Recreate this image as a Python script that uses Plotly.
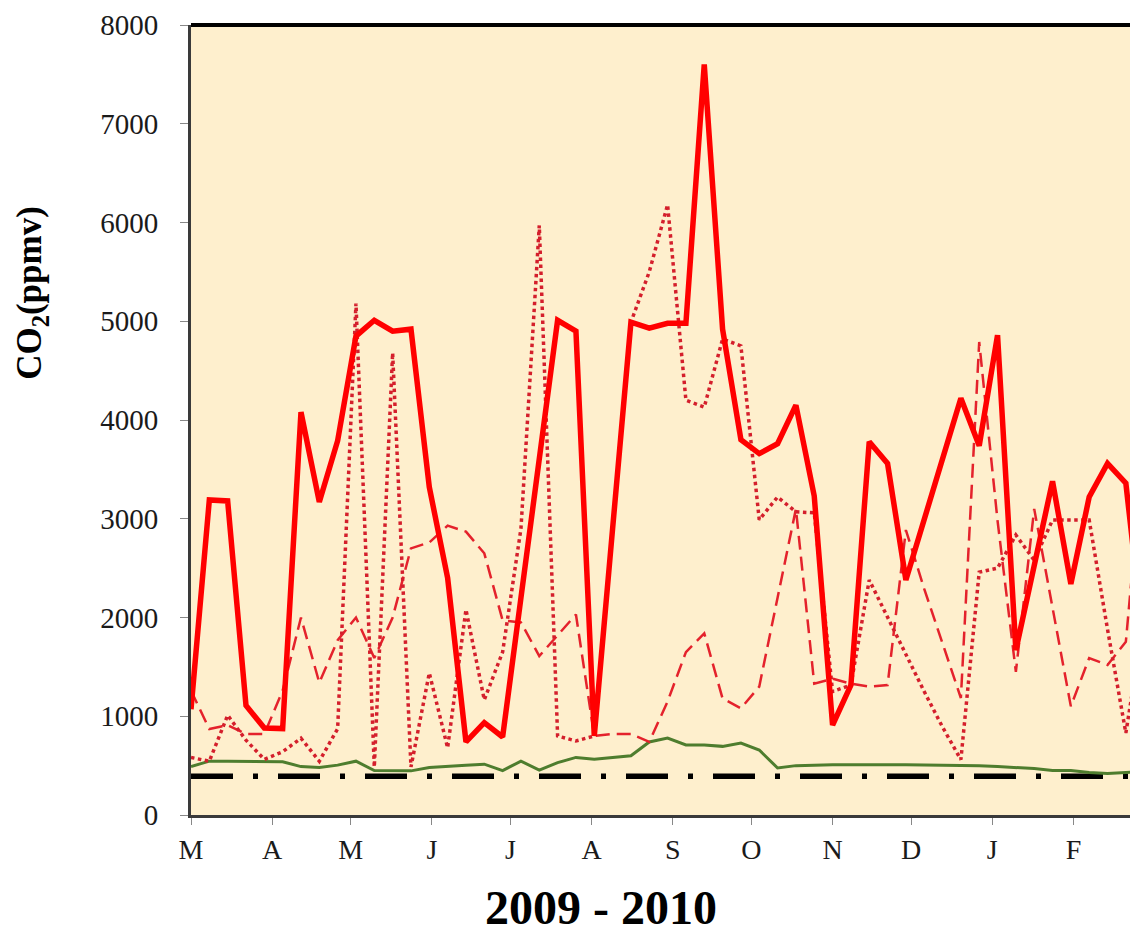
import plotly.graph_objects as go
import pandas as pd

# Weekly sampling dates (2009-03-01 onward)
dates = pd.date_range("2009-03-01", periods=53, freq="7D")

site_a_solid = [1070, 3190, 3180, 1110, 880, 875, 4080, 3170, 3790, 4850,
                5010, 4900, 4920, 3320, 2400, 740, 935, 790, 2200, 3600,
                5010, 4900, 800, 2900, 4990, 4930, 4980, 4980, 7600, 4920,
                3800, 3660, 3760, 4150, 3230, 910, 1316, 3780, 3560, 2380,
                3000, 3620, 4220, 3740, 4860, 1670, 2520, 3380, 2340, 3220,
                3560, 3360, 1700]

site_b_dashed = [1260, 870, 910, 820, 820, 1260, 2000, 1340, 1770, 2000,
                 1590, 2000, 2700, 2760, 2930, 2870, 2650, 1970, 1950, 1610,
                 1820, 2030, 800, 820, 820, 740, 1150, 1650, 1840, 1180,
                 1080, 1300, 2200, 3100, 1330, 1380, 1330, 1300, 1316, 2886,
                 2290, 1730, 1185, 4790, 2980, 1450, 3100, 2100, 1100, 1590,
                 1520, 1755, 3800]

site_c_dotted = [583, 544, 1010, 758, 563, 641, 777, 544, 874, 5180,
                 486, 4680, 486, 1438, 680, 2080, 1166, 1650, 2900, 5970,
                 800, 750, 800, 2900, 4990, 5500, 6180, 4200, 4130, 4820,
                 4750, 2990, 3220, 3070, 3060, 1250, 1316, 2380, 2000, 1620,
                 1250, 890, 560, 2460, 2500, 2835, 2580, 2987, 2987, 2987,
                 1880, 830, 2000]

outdoor_green = [490, 545, 545, 545, 545, 540, 490, 480, 505, 545,
                 450, 447, 447, 480, 495, 505, 515, 450, 545, 455,
                 530, 583, 565, 580, 600, 740, 780, 710, 710, 695,
                 729, 658, 476, 500, 506, 510, 510, 510, 516, 510,
                 506, 506, 506, 500, 490, 480, 470, 450, 450, 430,
                 420, 430, 440]

atmospheric_ref = [393] * 53

month_starts = ["2009-03-01", "2009-04-01", "2009-05-01", "2009-06-01",
                "2009-07-01", "2009-08-01", "2009-09-01", "2009-10-01",
                "2009-11-01", "2009-12-01", "2010-01-01", "2010-02-01"]
month_labels = ["M", "A", "M", "J", "J", "A", "S", "O", "N", "D", "J", "F"]

y_ticks = [0, 1000, 2000, 3000, 4000, 5000, 6000, 7000, 8000]

fig = go.Figure()

fig.add_trace(go.Scatter(x=dates, y=atmospheric_ref, mode="lines",
                         line=dict(color="black", width=5.5, dash="42px,20px,5px,20px"),
                         showlegend=False))
fig.add_trace(go.Scatter(x=dates, y=outdoor_green, mode="lines",
                         line=dict(color="#4E7D2E", width=3),
                         showlegend=False))
fig.add_trace(go.Scatter(x=dates, y=site_b_dashed, mode="lines",
                         line=dict(color="#E4222C", width=2.5, dash="14px,7px"),
                         showlegend=False))
fig.add_trace(go.Scatter(x=dates, y=site_c_dotted, mode="lines",
                         line=dict(color="#D41F2C", width=3.5, dash="dot"),
                         showlegend=False))
fig.add_trace(go.Scatter(x=dates, y=site_a_solid, mode="lines",
                         line=dict(color="#FF0000", width=5.5),
                         showlegend=False))

fig.update_layout(
    width=1130, height=928,
    margin=dict(l=191, r=0, t=25, b=113),
    paper_bgcolor="white",
    plot_bgcolor="#FEEFCD",
    font=dict(family="Liberation Serif", color="#1a1a1a"),
    xaxis=dict(
        type="date",
        range=["2009-03-01", "2010-02-22 14:00"],
        tickvals=month_starts, ticktext=month_labels,
        tickfont=dict(size=28, family="Liberation Serif", color="#1a1a1a"),
        ticks="outside", ticklen=7, tickwidth=1, tickcolor="#888888",
        ticklabelstandoff=0,
        showline=True, linecolor="#3a3a3a", linewidth=3,
        showgrid=False, zeroline=False,
    ),
    yaxis=dict(
        range=[0, 8000],
        tickvals=y_ticks,
        tickfont=dict(size=29, family="Liberation Serif", color="#1a1a1a"),
        ticks="outside", ticklen=8, tickwidth=1, tickcolor="#888888",
        ticklabelstandoff=16,
        showline=True, linecolor="#3a3a3a", linewidth=3,
        showgrid=False, zeroline=False,
    ),
    shapes=[dict(type="line", xref="paper", yref="paper", x0=0, x1=1, y0=1, y1=1,
                 line=dict(color="black", width=4))],
    annotations=[
        dict(text="<b>CO<sub>2</sub>(ppmv)</b>", xref="paper", yref="paper",
             x=-0.1693, y=0.661, xanchor="center", yanchor="middle",
             textangle=-90, showarrow=False,
             font=dict(size=35, family="Liberation Serif", color="black")),
        dict(text="<b>2009 - 2010</b>", xref="paper", yref="paper",
             x=0.4366, y=-0.1165, xanchor="center", yanchor="middle",
             showarrow=False,
             font=dict(size=48, family="Liberation Serif", color="black")),
    ],
)

fig.write_html("out.html")
